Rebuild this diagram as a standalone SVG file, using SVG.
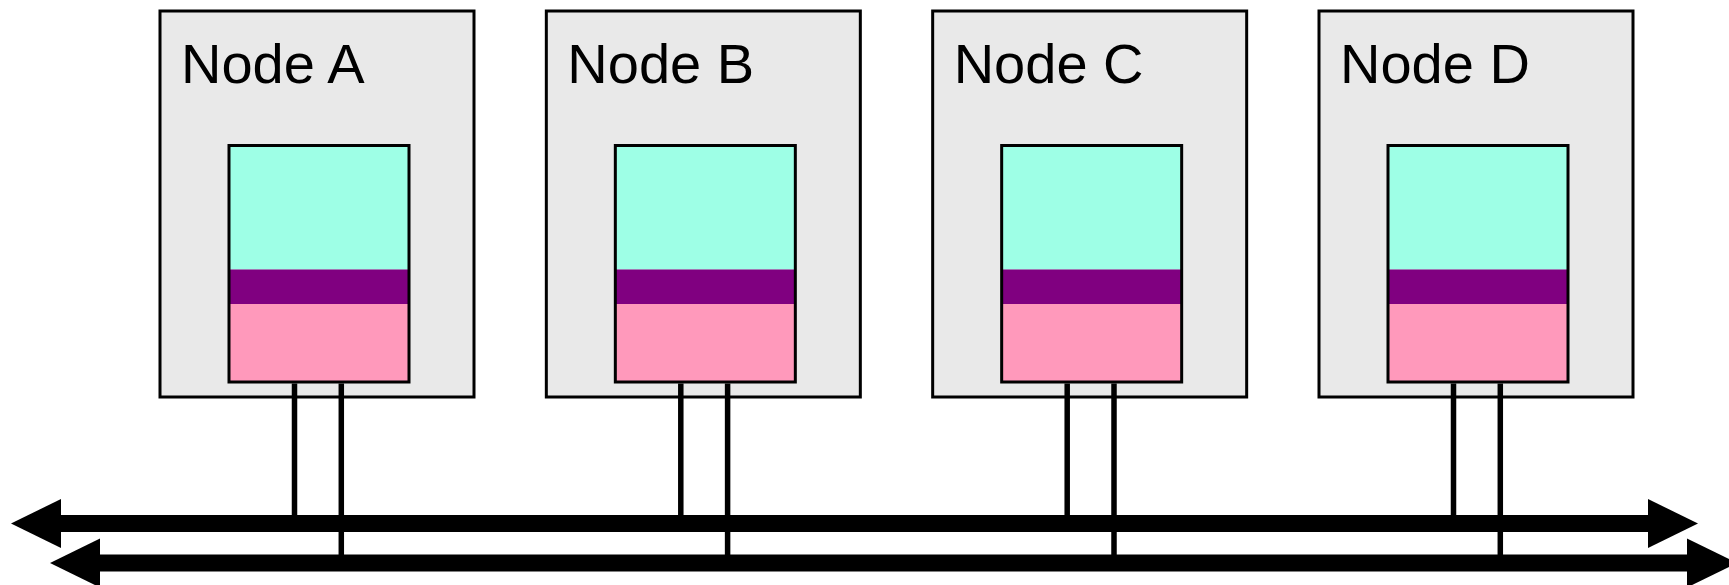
<svg xmlns="http://www.w3.org/2000/svg" width="1729" height="585" viewBox="0 0 1729 585">
  <style>
    .outer { fill: #e9e9e9; stroke: #000; stroke-width: 3; }
    .teal { fill: #9effe6; }
    .purple { fill: #800080; }
    .pink { fill: #ff99bb; }
    .inner { fill: none; stroke: #000; stroke-width: 3; }
    .label { font-family: "Liberation Sans", Arial, sans-serif; font-size: 56px; fill: #000; }
    .drop { stroke: #000; stroke-width: 5.5; fill: none; }
    .bus { stroke: #000; stroke-width: 17; fill: none; marker-start: url(#head); marker-end: url(#head); }
  </style>
  <defs>
    <marker id="head" markerUnits="userSpaceOnUse" markerWidth="50" markerHeight="49" refX="0" refY="24.5" orient="auto-start-reverse" overflow="visible">
      <path d="M0,0 L50,24.5 L0,49 Z" fill="#000"/>
    </marker>
    <g id="nodebody">
      <rect class="outer" x="160" y="11" width="314" height="386"/>
      <rect class="teal" x="229" y="145.5" width="180" height="124"/>
      <rect class="purple" x="229" y="269.5" width="180" height="34.5"/>
      <rect class="pink" x="229" y="304" width="180" height="78"/>
      <rect class="inner" x="229" y="145.5" width="180" height="236.5"/>
    </g>
  </defs>

  <g id="nodeA">
    <use href="#nodebody"/>
    <text class="label" x="181" y="83">Node A</text>
  </g>
  <g id="nodeB" transform="translate(386.33,0)">
    <use href="#nodebody"/>
    <text class="label" x="181" y="83">Node B</text>
  </g>
  <g id="nodeC" transform="translate(772.67,0)">
    <use href="#nodebody"/>
    <text class="label" x="181" y="83">Node C</text>
  </g>
  <g id="nodeD" transform="translate(1159,0)">
    <use href="#nodebody"/>
    <text class="label" x="181" y="83">Node D</text>
  </g>

  <g id="connectors">
    <line class="drop" x1="294.5" y1="383.5" x2="294.5" y2="516"/>
    <line class="drop" x1="341.3" y1="383.5" x2="341.3" y2="556"/>
    <line class="drop" x1="680.8" y1="383.5" x2="680.8" y2="516"/>
    <line class="drop" x1="727.6" y1="383.5" x2="727.6" y2="556"/>
    <line class="drop" x1="1067.2" y1="383.5" x2="1067.2" y2="516"/>
    <line class="drop" x1="1114" y1="383.5" x2="1114" y2="556"/>
    <line class="drop" x1="1453.5" y1="383.5" x2="1453.5" y2="516"/>
    <line class="drop" x1="1500.3" y1="383.5" x2="1500.3" y2="556"/>
    <line class="bus" x1="61" y1="523.5" x2="1648" y2="523.5"/>
    <line class="bus" x1="100" y1="563" x2="1687" y2="563"/>
  </g>
</svg>
